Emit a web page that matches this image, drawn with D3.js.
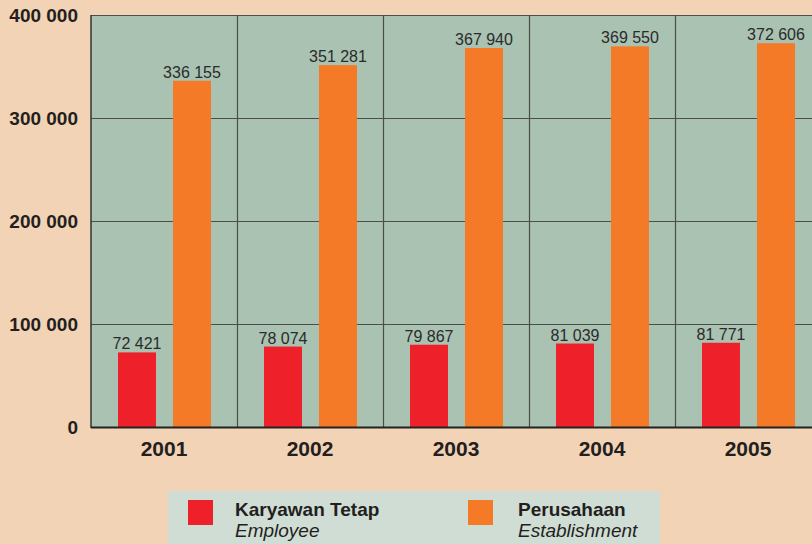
<!DOCTYPE html>
<html>
<head>
<meta charset="utf-8">
<script src="https://cdn.jsdelivr.net/npm/d3@7"></script>
<style>
  body { margin: 0; background: #f2d3b5; }
  svg { display: block; font-family: "Liberation Sans", Arial, sans-serif; }
</style>
</head>
<body>
<script>
var years = ["2001", "2002", "2003", "2004", "2005"];
var employee = [72421, 78074, 79867, 81039, 81771];
var establishment = [336155, 351281, 367940, 369550, 372606];
var yTicks = [0, 100000, 200000, 300000, 400000];

var W = 812, H = 544;
var plotL = 91, plotT = 15, plotB = 427, plotR = 821;

var svg = d3.select("body").append("svg").attr("width", W).attr("height", H);

var x = d3.scaleBand().domain(years).range([plotL, plotR]);
var y = d3.scaleLinear().domain([0, 400000]).range([plotB, plotT]);

function fmt(v) { return d3.format(",")(v).replace(/,/g, " "); }

// plot background
svg.append("rect").attr("x", plotL).attr("y", plotT)
  .attr("width", plotR - plotL).attr("height", plotB - plotT).attr("fill", "#a9c2b2");

// horizontal gridlines
svg.selectAll(".hg").data(yTicks.slice(1)).enter().append("line")
  .attr("x1", plotL).attr("x2", plotR)
  .attr("y1", function(d){ return y(d) + 0.5; }).attr("y2", function(d){ return y(d) + 0.5; })
  .attr("stroke", "#4d4d4d").attr("stroke-width", 1.2);

// vertical separators
svg.selectAll(".vg").data(years.slice(1)).enter().append("line")
  .attr("x1", function(d){ return x(d) + 0.5; }).attr("x2", function(d){ return x(d) + 0.5; })
  .attr("y1", plotT).attr("y2", plotB)
  .attr("stroke", "#4d4d4d").attr("stroke-width", 1.2);

var bw = 38;
// red bars
svg.selectAll(".emp").data(years).enter().append("rect")
  .attr("x", function(d){ return x(d) + 27; })
  .attr("y", function(d, i){ return y(employee[i]); })
  .attr("width", bw)
  .attr("height", function(d, i){ return plotB - y(employee[i]); })
  .attr("fill", "#ee2029");
// orange bars
svg.selectAll(".est").data(years).enter().append("rect")
  .attr("x", function(d){ return x(d) + 82; })
  .attr("y", function(d, i){ return y(establishment[i]); })
  .attr("width", bw)
  .attr("height", function(d, i){ return plotB - y(establishment[i]); })
  .attr("fill", "#f47a27");

// value labels
svg.selectAll(".el").data(years).enter().append("text")
  .attr("x", function(d){ return x(d) + 27 + bw / 2; })
  .attr("y", function(d, i){ return y(employee[i]) - 3; })
  .attr("text-anchor", "middle").attr("font-size", 16).attr("fill", "#2b2b2b")
  .text(function(d, i){ return fmt(employee[i]); });
svg.selectAll(".sl").data(years).enter().append("text")
  .attr("x", function(d){ return x(d) + 82 + bw / 2; })
  .attr("y", function(d, i){ return y(establishment[i]) - 3; })
  .attr("text-anchor", "middle").attr("font-size", 16).attr("fill", "#2b2b2b")
  .text(function(d, i){ return fmt(establishment[i]); });

// axes lines
svg.append("line").attr("x1", plotL).attr("x2", plotL).attr("y1", plotT).attr("y2", plotB + 1)
  .attr("stroke", "#333").attr("stroke-width", 1.5);
svg.append("line").attr("x1", plotL).attr("x2", plotR).attr("y1", plotB + 0.5).attr("y2", plotB + 0.5)
  .attr("stroke", "#222").attr("stroke-width", 2);

// y tick labels
svg.selectAll(".yl").data(yTicks).enter().append("text")
  .attr("x", 78).attr("y", function(d){ return y(d) + 7; })
  .attr("text-anchor", "end").attr("font-size", 19).attr("font-weight", "bold").attr("fill", "#231f20")
  .text(function(d){ return fmt(d); });

// x labels
svg.selectAll(".xl").data(years).enter().append("text")
  .attr("x", function(d){ return x(d) + x.bandwidth() / 2; })
  .attr("y", 456)
  .attr("text-anchor", "middle").attr("font-size", 21).attr("font-weight", "bold").attr("fill", "#231f20")
  .text(function(d){ return d; });

// legend
var lg = svg.append("g");
lg.append("rect").attr("x", 168).attr("y", 491).attr("width", 492).attr("height", 60).attr("fill", "#cfddd4");
var legendItems = [
  { x: 188, tx: 235, color: "#ee2029", main: "Karyawan Tetap", sub: "Employee" },
  { x: 468, tx: 518, color: "#f47a27", main: "Perusahaan", sub: "Establishment" }
];
legendItems.forEach(function(it){
  lg.append("rect").attr("x", it.x).attr("y", 500).attr("width", 25).attr("height", 25).attr("fill", it.color);
  lg.append("text").attr("x", it.tx).attr("y", 516).attr("font-size", 19).attr("font-weight", "bold")
    .attr("fill", "#231f20").text(it.main);
  lg.append("text").attr("x", it.tx).attr("y", 537).attr("font-size", 19).attr("font-style", "italic")
    .attr("fill", "#231f20").text(it.sub);
});
</script>
</body>
</html>
